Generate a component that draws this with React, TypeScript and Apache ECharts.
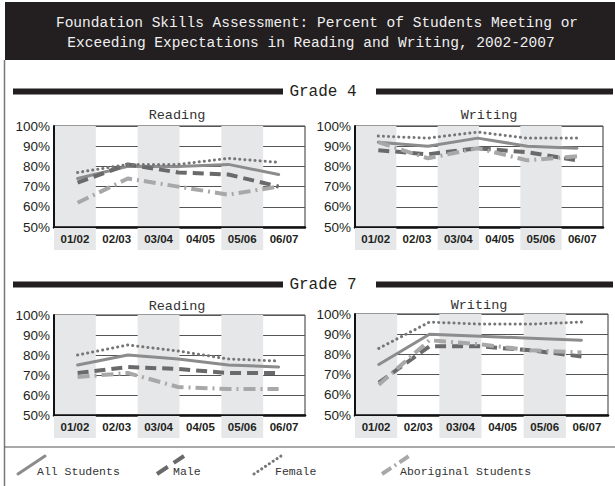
import React, { useEffect, useRef } from "react";
import * as echarts from "echarts";

const xLabels = ["01/02", "02/03", "03/04", "04/05", "05/06", "06/07"];
const pointYears = ["p1", "p2", "p3", "p4", "p5"];
const seriesNames = ["All Students", "Male", "Female", "Aboriginal Students"];

const g4ReadingAll = [74, 80, 80, 81, 76];
const g4ReadingMale = [72, 81, 77, 76, 70];
const g4ReadingFemale = [77, 81, 81, 84, 82];
const g4ReadingAboriginal = [62, 74, 70, 66, 70];

const g4WritingAll = [92, 90, 94, 90, 89];
const g4WritingMale = [88, 86, 89, 87, 83];
const g4WritingFemale = [95, 94, 97, 94, 94];
const g4WritingAboriginal = [92, 84, 89, 83, 85];

const g7ReadingAll = [75, 80, 78, 75, 74];
const g7ReadingMale = [71, 74, 73, 71, 71];
const g7ReadingFemale = [80, 85, 82, 78, 77];
const g7ReadingAboriginal = [69, 71, 64, 63, 63];

const g7WritingAll = [75, 90, 89, 88, 87];
const g7WritingMale = [66, 84, 84, 82, 79];
const g7WritingFemale = [83, 96, 95, 95, 96];
const g7WritingAboriginal = [65, 87, 85, 82, 81];

const MONO = "'Liberation Mono', 'DejaVu Sans Mono', monospace";
const SANS = "'Liberation Sans', Arial, sans-serif";
const DARK = "#231f20";
const SHADE = "#e6e7e9";

const styles = [
  { color: "#8c8c8c", width: 3, type: "solid" as any, cap: "round" },
  { color: "#6a6a6a", width: 4, type: [11, 6] as any, cap: "butt" },
  { color: "#767676", width: 3, type: [0.1, 5] as any, cap: "round" },
  { color: "#a8a8a8", width: 4, type: [12, 5, 2, 5] as any, cap: "butt" },
];

const panels = [
  { left: 54, top: 126, width: 251, height: 101, title: "Reading", tx: 177, ty: 115,
    data: [g4ReadingAll, g4ReadingMale, g4ReadingFemale, g4ReadingAboriginal] },
  { left: 355, top: 126, width: 248, height: 101, title: "Writing", tx: 489, ty: 115,
    data: [g4WritingAll, g4WritingMale, g4WritingFemale, g4WritingAboriginal] },
  { left: 54, top: 315, width: 251, height: 100, title: "Reading", tx: 177, ty: 306,
    data: [g7ReadingAll, g7ReadingMale, g7ReadingFemale, g7ReadingAboriginal] },
  { left: 355, top: 314, width: 253, height: 101, title: "Writing", tx: 479, ty: 305,
    data: [g7WritingAll, g7WritingMale, g7WritingFemale, g7WritingAboriginal] },
];

function buildOption() {
  const grid: any[] = [];
  const xAxis: any[] = [];
  const yAxis: any[] = [];
  const series: any[] = [];
  const graphic: any[] = [];

  panels.forEach((p, k) => {
    const band = p.width / 6;
    grid.push({ left: p.left, top: p.top, width: p.width, height: p.height, show: true,
      borderColor: "#333", borderWidth: 1, backgroundColor: "transparent" });
    const insL = p.width * 0.094;
    const insR = p.width * 0.105;
    grid.push({ left: p.left + insL, top: p.top, width: p.width - insL - insR, height: p.height, show: false });

    const labelStyle = { fontFamily: SANS, fontWeight: "bold", fontSize: 11.5, color: DARK,
      width: band, height: 22, lineHeight: 22, align: "center" };
    xAxis.push({
      type: "category", gridIndex: 2 * k, data: xLabels, boundaryGap: true,
      axisLine: { show: true, lineStyle: { color: "#111", width: 2.5 } },
      axisTick: { show: false },
      splitLine: { show: false },
      splitArea: { show: true, interval: 0, areaStyle: { color: [SHADE, "rgba(255,255,255,0)"] } },
      axisLabel: {
        interval: 0, margin: 1,
        formatter: (v: string, i: number) => (i % 2 === 0 ? `{g|${v}}` : `{w|${v}}`),
        rich: { g: { ...labelStyle, backgroundColor: SHADE }, w: { ...labelStyle } },
      },
    });
    xAxis.push({ type: "category", gridIndex: 2 * k + 1, data: pointYears, boundaryGap: false, show: false });

    yAxis.push({
      type: "value", gridIndex: 2 * k, min: 50, max: 100, interval: 10,
      axisLine: { show: true, lineStyle: { color: "#111", width: 2 } },
      axisTick: { show: false },
      axisLabel: { formatter: "{value}%", fontFamily: SANS, fontSize: 13.5, color: DARK, margin: 4 },
      splitLine: { show: true, lineStyle: { color: "#555", width: 1.2 } },
    });
    yAxis.push({ type: "value", gridIndex: 2 * k + 1, min: 50, max: 100, show: false });

    p.data.forEach((d, s) => {
      const st = styles[s];
      series.push({
        type: "line", name: seriesNames[s], xAxisIndex: 2 * k + 1, yAxisIndex: 2 * k + 1,
        data: d, symbol: "none", z: 3 + s,
        lineStyle: { color: st.color, width: st.width, type: st.type, cap: st.cap, join: "round" },
      });
    });

    graphic.push({ type: "text", x: p.tx, y: p.ty,
      style: { text: p.title, font: `13.5px ${MONO}`, fill: "#333", textAlign: "center", textVerticalAlign: "middle" } });
  });

  // title band
  graphic.push({ type: "rect", shape: { x: 5, y: 2, width: 610, height: 58 }, style: { fill: DARK } });
  graphic.push({ type: "text", x: 317, y: 23,
    style: { text: "Foundation Skills Assessment: Percent of Students Meeting or", font: `14.5px ${MONO}`,
      fill: "#f0f0f0", textAlign: "center", textVerticalAlign: "middle" } });
  graphic.push({ type: "text", x: 311, y: 43,
    style: { text: "Exceeding Expectations in Reading and Writing, 2002-2007", font: `14.5px ${MONO}`,
      fill: "#f0f0f0", textAlign: "center", textVerticalAlign: "middle" } });

  // frame lines
  graphic.push({ type: "line", shape: { x1: 4.5, y1: 60, x2: 4.5, y2: 486 }, style: { stroke: "#777", lineWidth: 1.5 } });
  graphic.push({ type: "line", shape: { x1: 4.5, y1: 447, x2: 615, y2: 447 }, style: { stroke: "#555", lineWidth: 1.2 } });

  // grade headers
  const headers = [{ text: "Grade 4", y: 91.5 }, { text: "Grade 7", y: 284.5 }];
  headers.forEach((h) => {
    graphic.push({ type: "rect", shape: { x: 13, y: h.y - 3, width: 270, height: 6 }, style: { fill: DARK } });
    graphic.push({ type: "rect", shape: { x: 376, y: h.y - 3, width: 237, height: 6 }, style: { fill: DARK } });
    graphic.push({ type: "text", x: 323, y: h.y,
      style: { text: h.text, font: `16px ${MONO}`, fill: DARK, textAlign: "center", textVerticalAlign: "middle" } });
  });

  // legend
  const legendItems = [
    { x: 18, tx: 37, dash: null },
    { x: 157, tx: 173, dash: [13, 7] },
    { x: 254, tx: 275, dash: [0.1, 4.5] },
    { x: 382, tx: 400, dash: [11, 4, 2, 4] },
  ];
  legendItems.forEach((li, s) => {
    const st = styles[s];
    graphic.push({ type: "line", shape: { x1: li.x, y1: 474, x2: li.x + 27, y2: 456 },
      style: { stroke: st.color, lineWidth: st.width, lineDash: li.dash, lineCap: st.cap } });
    graphic.push({ type: "text", x: li.tx, y: 471,
      style: { text: seriesNames[s], font: `11.5px ${MONO}`, fill: "#333", textVerticalAlign: "middle" } });
  });

  return { animation: false, backgroundColor: "#ffffff", grid, xAxis, yAxis, series, graphic };
}

export default function App() {
  const ref = useRef<HTMLDivElement>(null);
  useEffect(() => {
    document.body.style.margin = "0";
    if (!ref.current) return;
    const chart = echarts.init(ref.current, null, { renderer: "svg" });
    chart.setOption(buildOption() as any);
    return () => chart.dispose();
  }, []);
  return <div ref={ref} style={{ position: "absolute", left: 0, top: 0, width: 615, height: 486 }} />;
}
